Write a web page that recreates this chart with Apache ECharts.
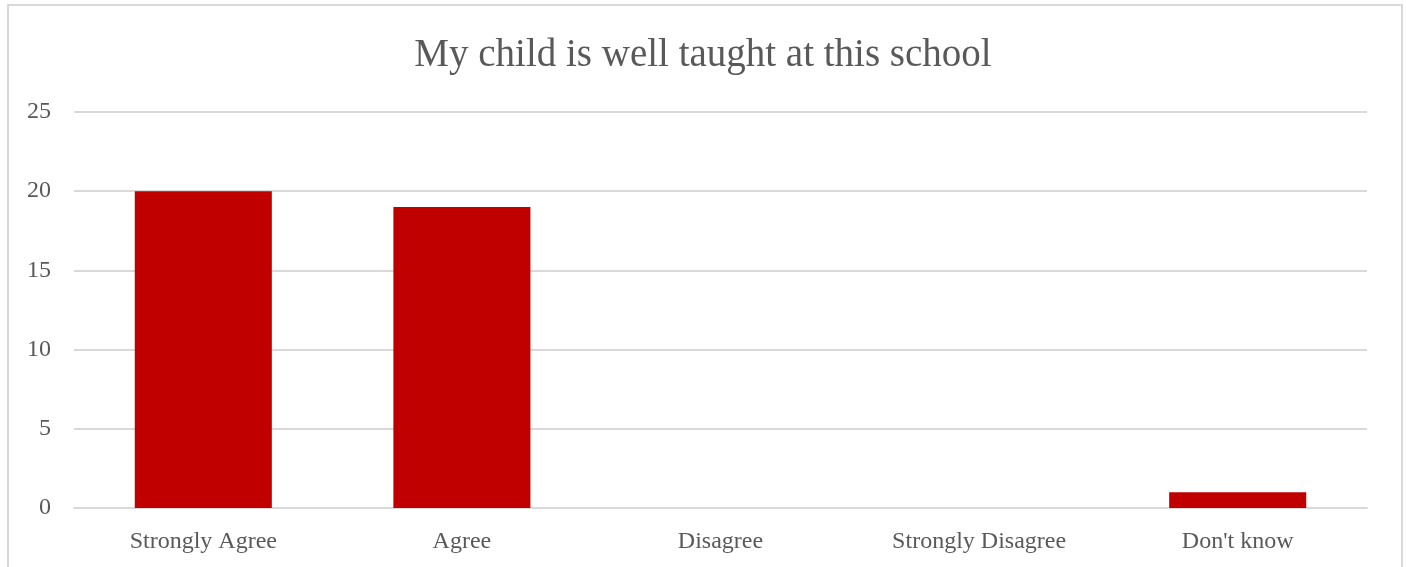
<!DOCTYPE html>
<html><head><meta charset="utf-8">
<script src="https://cdn.jsdelivr.net/npm/echarts@6/dist/echarts.min.js"></script>
<style>
html,body{margin:0;padding:0;background:#fff;overflow:hidden;}
#frame{position:absolute;left:7px;top:4px;width:1396px;height:600px;border:2px solid #d9d9d9;box-sizing:border-box;}
#c{position:absolute;left:0;top:0;width:1406px;height:567px;}
</style></head>
<body>
<div id="frame"></div>
<div id="c"></div>
<script>
const titleText = "My child is well taught at this school";
const categories = ["Strongly Agree", "Agree", "Disagree", "Strongly Disagree", "Don't know"];
const values = [20, 19, 0, 0, 1];
const yTicks = { min: 0, max: 25, interval: 5 };

const font = "'Liberation Serif', 'DejaVu Serif', serif";
const chart = echarts.init(document.getElementById('c'), null, { renderer: 'canvas' });
chart.setOption({
  animation: false,
  backgroundColor: 'transparent',
  title: {
    text: titleText, left: 'center', top: 31,
    textStyle: { fontFamily: font, fontSize: 39, fontWeight: 'normal', color: '#595959' }
  },
  grid: { left: 74, right: 39, top: 112, bottom: 59, containLabel: false },
  xAxis: {
    type: 'category', data: categories,
    axisLine: { lineStyle: { color: '#d9d9d9', width: 2 } },
    axisTick: { show: false },
    axisLabel: { fontFamily: font, fontSize: 24, color: '#595959', margin: 22 }
  },
  yAxis: {
    type: 'value', min: yTicks.min, max: yTicks.max, interval: yTicks.interval,
    axisLine: { show: false }, axisTick: { show: false },
    splitLine: { lineStyle: { color: '#d9d9d9', width: 2 } },
    axisLabel: { fontFamily: font, fontSize: 24, color: '#595959', margin: 23, padding: [3, 0, 0, 0] }
  },
  series: [{
    type: 'bar', data: values, barWidth: '53%',
    itemStyle: { color: '#c00000' }
  }]
});
</script>
</body></html>
